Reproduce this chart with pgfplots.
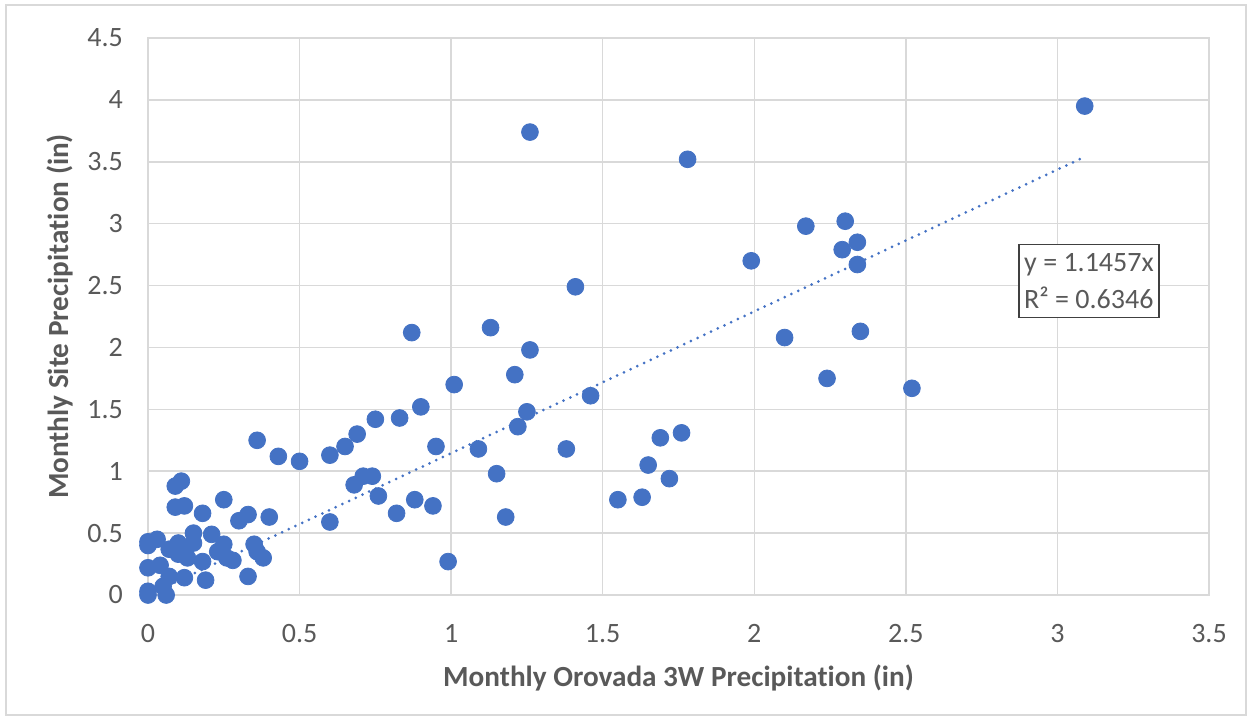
\documentclass[border=0pt]{standalone}
\usepackage{pgfplots}
\pgfplotsset{compat=1.18}
\usepackage{fontspec}
\setmainfont{Carlito}[RawFeature={-liga}]
\definecolor{exblue}{HTML}{4472C4}
\definecolor{gridgr}{HTML}{D9D9D9}
\definecolor{txtgr}{HTML}{595959}
\definecolor{boxgr}{HTML}{404040}
\begin{document}
\begin{tikzpicture}
\useasboundingbox (-74pt,-62pt) rectangle (552pt,297.5pt);
\draw[gridgr, line width=0.7pt] (-71pt,-60pt) rectangle (549pt,295pt);
\begin{axis}[
  scale only axis,
  width=530.5pt, height=278.5pt,
  xmin=0, xmax=3.5, ymin=0, ymax=4.5,
  xtick={0,0.5,...,3.5}, ytick={0,0.5,...,4.5},
  grid=major,
  major grid style={gridgr, line width=0.75pt},
  axis line style={gridgr, line width=0.75pt},
  tick style={draw=none},
  /pgf/number format/assume math mode=true,
  ticklabel style={font=\fontsize{14}{16}\selectfont, text=txtgr},
  xticklabel shift=11pt,
  yticklabel shift=9pt,
  xlabel={Monthly Orovada 3W Precipitation (in)},
  ylabel={Monthly Site Precipitation (in)},
  every axis x label/.style={at={(axis description cs:0.5,0)}, anchor=center, yshift=-41.5pt, font=\fontsize{14.6}{16}\selectfont\bfseries, text=txtgr},
  every axis y label/.style={at={(axis description cs:0,0.5)}, rotate=90, anchor=center, yshift=44pt, font=\fontsize{14.6}{16}\selectfont\bfseries, text=txtgr},
  clip=false,
]
\addplot[only marks, mark=*, mark size=4.2pt, mark options={fill=exblue, draw=exblue}] coordinates {
(3.09,3.95) (1.26,3.74) (1.78,3.52) (2.30,3.02) (2.17,2.98) (2.34,2.85)
(2.29,2.79) (2.34,2.67) (1.99,2.70) (1.41,2.49) (0.87,2.12) (1.13,2.16)
(1.26,1.98) (2.10,2.08) (2.35,2.13) (1.21,1.78) (2.24,1.75) (2.52,1.67)
(1.01,1.70) (1.46,1.61) (0.90,1.52) (1.25,1.48) (0.75,1.42) (0.83,1.43)
(1.22,1.36) (1.76,1.31) (0.69,1.30) (1.69,1.27) (0.36,1.25) (0.65,1.20)
(0.95,1.20) (1.38,1.18) (1.09,1.18) (0.60,1.13) (0.43,1.12) (0.50,1.08)
(1.65,1.05) (1.15,0.98) (0.71,0.96) (0.74,0.96) (1.72,0.94) (0.11,0.92)
(0.09,0.88) (0.68,0.89) (0.76,0.80) (1.55,0.77) (1.63,0.79) (0.88,0.77)
(0.25,0.77) (0.94,0.72) (0.09,0.71) (0.12,0.72) (0.82,0.66) (0.18,0.66)
(0.33,0.65) (0.40,0.63) (0.30,0.60) (1.18,0.63) (0.60,0.59) (0.99,0.27)
(0,0.43) (0,0.40) (0.03,0.45) (0.07,0.37) (0.10,0.42) (0.12,0.35)
(0.15,0.50) (0.15,0.42) (0.13,0.30) (0.21,0.49) (0.25,0.41) (0.23,0.35)
(0.26,0.30) (0.28,0.28) (0.18,0.27) (0.35,0.41) (0.36,0.35) (0.38,0.30)
(0,0.22) (0.04,0.24) (0.07,0.15) (0.12,0.14) (0.19,0.12) (0.33,0.15)
(0.05,0.07) (0,0.03) (0,0) (0.06,0) (0.09,0.36) (0.10,0.33)
};
\addplot[exblue, line width=1.5pt, line cap=round, dash pattern=on 0pt off 3.7pt] coordinates {(0,0) (3.09,3.540)};
\node[draw=boxgr, line width=0.75pt, fill=white, text=txtgr, align=left, font=\fontsize{14}{18.5}\selectfont, minimum width=70pt, minimum height=36.5pt, inner sep=2pt] at (axis cs:3.104,2.536) {y = 1.1457x\\R² = 0.6346};
\end{axis}
\end{tikzpicture}
\end{document}
